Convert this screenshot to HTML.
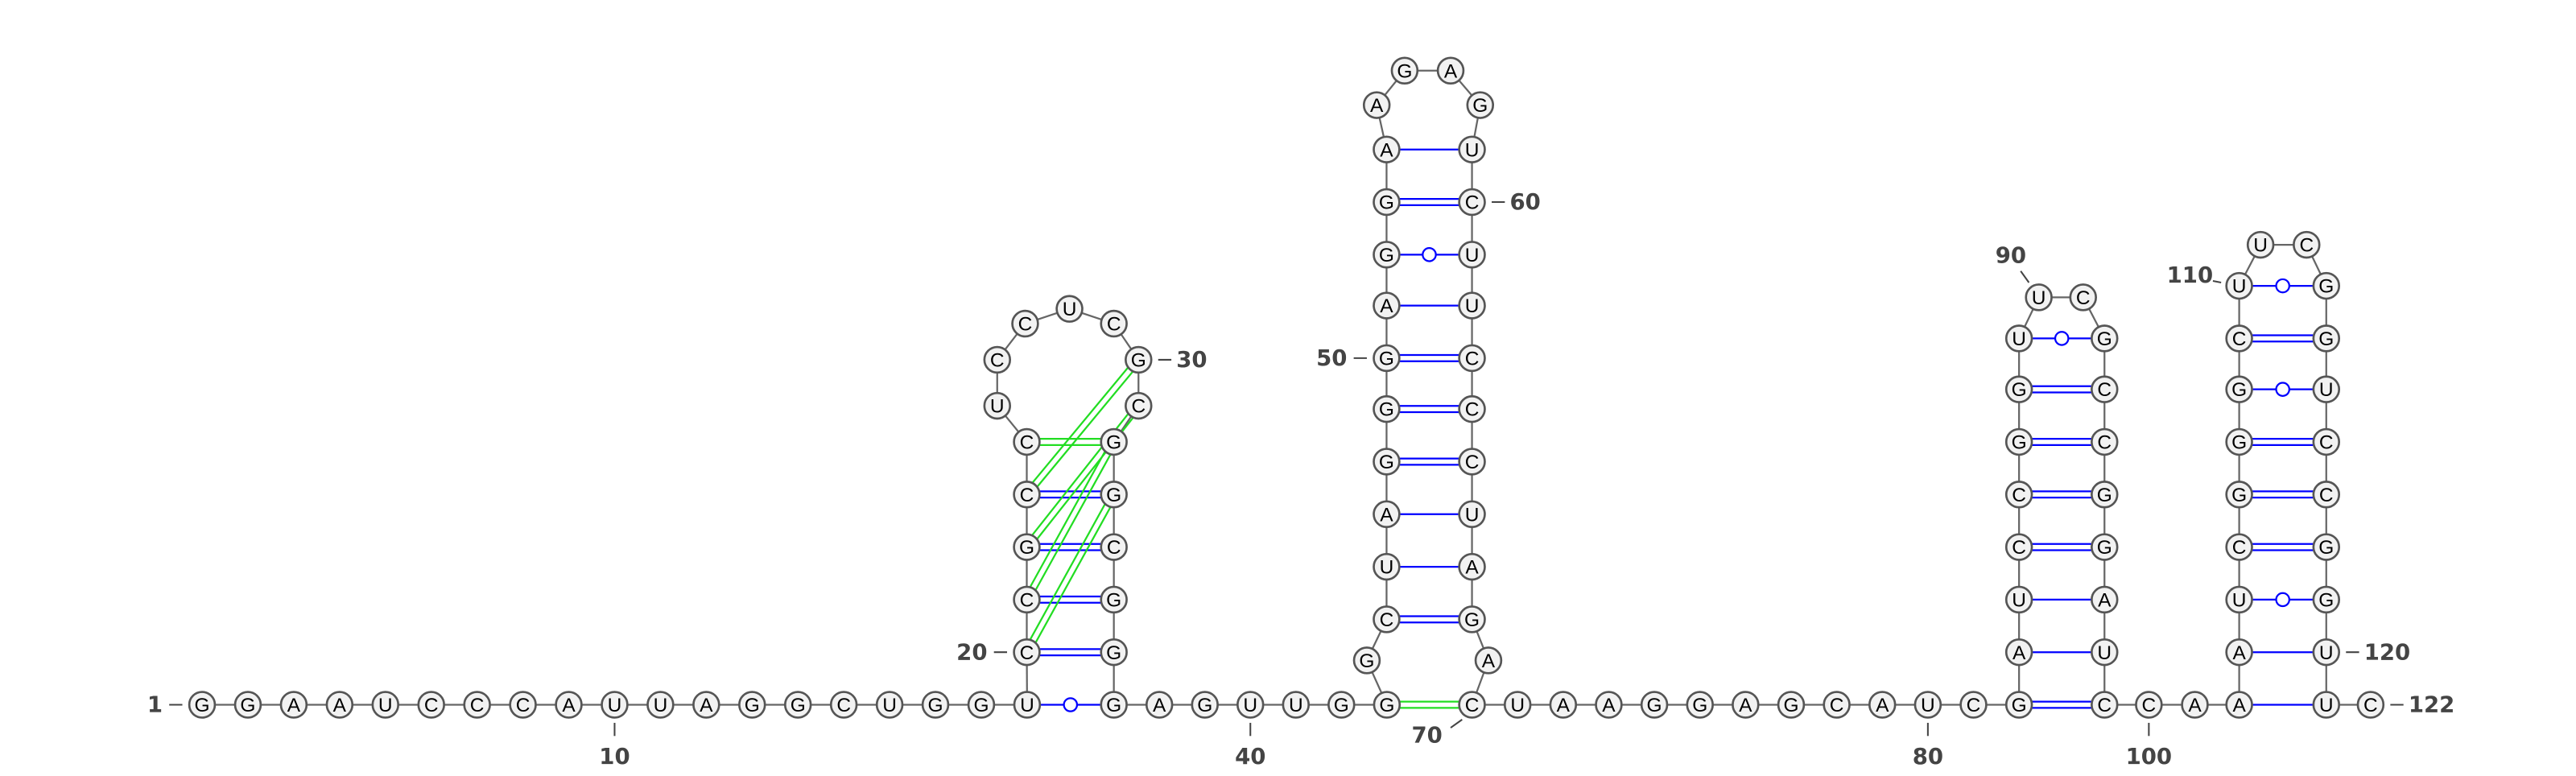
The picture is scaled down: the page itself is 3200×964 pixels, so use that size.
<!DOCTYPE html>
<html><head><meta charset="utf-8"><style>
html,body{margin:0;padding:0;background:#fff;}
svg{display:block;}
.nt text{font-family:"Liberation Sans",sans-serif;}
.lbl{font-family:"DejaVu Sans","Liberation Sans",sans-serif;font-weight:bold;fill:#444;font-size:13.5px;}
</style></head><body>
<svg id="chart" width="3200" height="964" viewBox="0 0 3200 964" xmlns="http://www.w3.org/2000/svg">
<g id="root" transform="scale(2.0408)"></g>
</svg>
<script>
const seq = "GGAAUCCCAUUAGGCUGGU" + "CCGCC" + "UCCUCGC" + "GGCGG" + "GAGUUGG" +
  "GCUAGGGAGGAAGAGUCUUCCCUAGAC" + "UAAGGAGCAUC" + "GAUCCGGU" + "UC" + "GCCGGAUC" + "CA" + "AAUCGGGCU" + "UC" + "GGUCCGGUU" + "C";
const pairs = [[19,37,'w'],[20,36,'d'],[21,35,'d'],[22,34,'d'],[23,33,'d'],[24,32,'g'],
[43,70,'g'],[45,68,'d'],[46,67,'s'],[47,66,'s'],[48,65,'d'],[49,64,'d'],[50,63,'d'],[51,62,'s'],[52,61,'w'],[53,60,'d'],[54,59,'s'],
[82,99,'d'],[83,98,'s'],[84,97,'s'],[85,96,'d'],[86,95,'d'],[87,94,'d'],[88,93,'d'],[89,92,'w'],
[102,121,'s'],[103,120,'s'],[104,119,'w'],[105,118,'d'],[106,117,'d'],[107,116,'d'],[108,115,'w'],[109,114,'d'],[110,113,'w']];
const knots = [[30,23],[31,22],[32,21],[33,20]];
const labels = [[1,'1'],[10,'10'],[20,'20'],[30,'30'],[40,'40'],[50,'50'],[60,'60'],[70,'70'],[80,'80'],[90,'90'],[100,'100'],[110,'110'],[120,'120'],[122,'122']];

const P = {};
const B = 429, dx = 27.9;
for (let i=1;i<=19;i++) P[i]=[123+(i-1)*dx,B];
[[20,397],[21,365],[22,333],[23,301],[24,269]].forEach(([i,y])=>P[i]=[625,y]);
P[25]=[607,247];P[26]=[607,219];P[27]=[624,197];P[28]=[651,188];P[29]=[678,197];P[30]=[693,219];P[31]=[693,247];
[[32,269],[33,301],[34,333],[35,365],[36,397]].forEach(([i,y])=>P[i]=[678,y]);
for (let i=37;i<=43;i++) P[i]=[678+(i-37)*27.7,B];
P[44]=[832,402];
const ys2=[377,345,313,281,249,218,186,155,123,91];
for (let k=0;k<10;k++){P[45+k]=[844,ys2[k]];P[68-k]=[896,ys2[k]];}
P[55]=[838,64];P[56]=[855,43];P[57]=[883,43];P[58]=[901,64];
P[69]=[906,402];
for (let i=70;i<=82;i++) P[i]=[896+(i-70)*27.75,B];
const ys3=[429,397,365,333,301,269,237,206];
for (let k=0;k<8;k++){P[82+k]=[1229,ys3[k]];P[99-k]=[1281,ys3[k]];}
P[90]=[1241,181];P[91]=[1268,181];
P[100]=[1308,B];P[101]=[1336,B];
const ys4=[429,397,365,333,301,269,237,206,174];
for (let k=0;k<9;k++){P[102+k]=[1363,ys4[k]];P[121-k]=[1416,ys4[k]];}
P[111]=[1376,149];P[112]=[1404,149];
P[122]=[1443,B];

const NS="http://www.w3.org/2000/svg";
const root=document.getElementById('root');
function el(t,a,parent){const e=document.createElementNS(NS,t);for(const k in a)e.setAttribute(k,a[k]);(parent||root).appendChild(e);return e;}

const bb=el('g',{});


for(let i=1;i<122;i++){el('line',{x1:P[i][0],y1:P[i][1],x2:P[i+1][0],y2:P[i+1][1],stroke:'#666','stroke-width':1.1},bb);}

function dbl(a,b,color,g){
  const [x1,y1]=P[a],[x2,y2]=P[b];const L=Math.hypot(x2-x1,y2-y1);const nx=-(y2-y1)/L*1.9,ny=(x2-x1)/L*1.9;
  el('line',{x1:x1+nx,y1:y1+ny,x2:x2+nx,y2:y2+ny,stroke:color,'stroke-width':1.1},g);
  el('line',{x1:x1-nx,y1:y1-ny,x2:x2-nx,y2:y2-ny,stroke:color,'stroke-width':1.1},g);
}
const pg=el('g',{});


pairs.forEach(([a,b,t])=>{
  const g=el('g',{},pg);
  
  
  if(t==='d')dbl(a,b,'#0000ff',g);
  else if(t==='g')dbl(a,b,'#22dd22',g);
  else if(t==='s')el('line',{x1:P[a][0],y1:P[a][1],x2:P[b][0],y2:P[b][1],stroke:'#0000ff','stroke-width':1.1},g);
  else{el('line',{x1:P[a][0],y1:P[a][1],x2:P[b][0],y2:P[b][1],stroke:'#0000ff','stroke-width':1.1},g);
       el('circle',{cx:(P[a][0]+P[b][0])/2,cy:(P[a][1]+P[b][1])/2,r:4,fill:'#fff',stroke:'#0000ff','stroke-width':1.1},g);}
});
knots.forEach(([a,b])=>{
  const g=el('g',{},pg);
  
  
  dbl(a,b,'#22dd22',g);
});

for(let i=1;i<=122;i++){
  const g=el('g',{class:'nt'});
  
  
  el('circle',{cx:P[i][0],cy:P[i][1],r:7.8,fill:'#f2f2f2',stroke:'#555','stroke-width':1.3},g);
  const t=el('text',{x:P[i][0],y:P[i][1]+4.2,'text-anchor':'middle','font-size':12,fill:'#000'},g);
  t.textContent=seq[i-1];
}

const lpos={1:'L',10:'B',20:'L',30:'R',40:'B',50:'L',60:'R',70:'BL',80:'B',90:'TL',100:'B',110:'TL2',120:'R',122:'R'};
labels.forEach(([i,txt])=>{
  const [x,y]=P[i];const g=el('g',{});
  
  
  const m=lpos[i];let tx,ty,anc,l;
  if(m==='L'){l=[x-20,y,x-12,y];tx=x-24;ty=y+4.5;anc='end';}
  else if(m==='R'){l=[x+12,y,x+20,y];tx=x+23;ty=y+4.5;anc='start';}
  else if(m==='B'){l=[x,y+11,x,y+19];tx=x;ty=y+36;anc='middle';}
  else if(m==='BL'){l=[x-6,y+9,x-13,y+14];tx=x-18;ty=y+23;anc='end';}
  else if(m==='TL'){l=[x-6,y-9,x-11,y-16];tx=x-17;ty=y-21;anc='middle';}
  else {l=[x-11,y-2,x-16,y-3];tx=x-30;ty=y-2;anc='middle';}
  el('line',{x1:l[0],y1:l[1],x2:l[2],y2:l[3],stroke:'#444','stroke-width':1},g);
  const t=el('text',{x:tx,y:ty,'text-anchor':anc,class:'lbl'},g);t.textContent=txt;
});
</script>
</body></html>
